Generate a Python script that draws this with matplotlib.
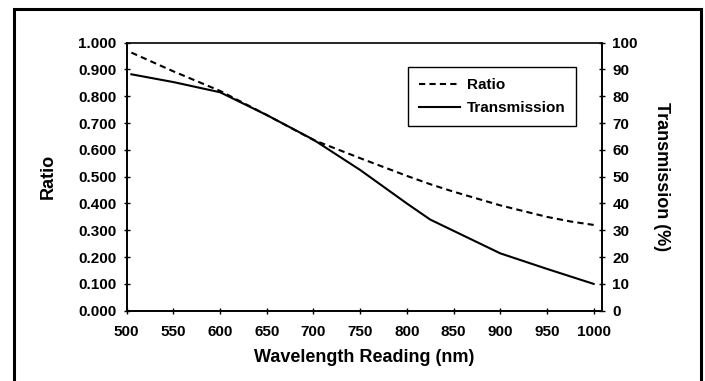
import matplotlib
matplotlib.use("Agg")
import matplotlib.pyplot as plt
from matplotlib.patches import Rectangle

plt.rcParams['font.family'] = ['Liberation Sans', 'DejaVu Sans']
plt.rcParams['font.weight'] = 'bold'

# data
wavelength = [505, 550, 600, 650, 700, 750, 800, 825, 850, 900, 950, 975, 1000]
ratio = [0.963, 0.893, 0.820, 0.730, 0.637, 0.569, 0.503, 0.472, 0.444, 0.393, 0.350, 0.333, 0.320]
transmission = [88.2, 85.3, 81.5, 73.0, 63.8, 52.5, 40.0, 34.0, 29.8, 21.4, 15.6, 12.8, 10.0]

ratio_ticks = [i / 10 for i in range(11)]
trans_ticks = list(range(0, 101, 10))
wl_ticks = list(range(500, 1001, 50))

fig = plt.figure(figsize=(7.05, 3.81), dpi=100)
ax = fig.add_axes([0.1797, 0.1845, 0.6743, 0.7035])
ax2 = ax.twinx()

l1, = ax.plot(wavelength, ratio, color='black', lw=1.5, ls=(0, (3, 2)), label='Ratio')
l2, = ax2.plot(wavelength, transmission, color='black', lw=1.5, label='Transmission')

ax.set_xlim(500, 1009)
ax.set_ylim(0, 1)
ax2.set_ylim(0, 100)
ax.set_xticks(wl_ticks)
ax.set_yticks(ratio_ticks)
ax.set_yticklabels(['%.3f' % v for v in ratio_ticks])
ax2.set_yticks(trans_ticks)

for a in (ax, ax2):
    a.tick_params(direction='inout', length=5, width=1, labelsize=11, pad=5)
    for s in a.spines.values():
        s.set_linewidth(1.2)
ax.tick_params(axis='x', pad=8)
ax2.spines['top'].set_visible(False)

ax.set_xlabel('Wavelength Reading (nm)', fontsize=13, fontweight='bold', labelpad=7)
ax.set_ylabel('Ratio', fontsize=13, fontweight='bold', labelpad=15)
ax2.set_ylabel('Transmission (%)', fontsize=13, fontweight='bold', rotation=270, labelpad=23)

leg = ax2.legend(handles=[l1, l2], loc='upper left', bbox_to_anchor=(0.592, 0.908),
                 borderaxespad=0, fancybox=False, framealpha=1, edgecolor='black',
                 fontsize=11, handlelength=2.7, handletextpad=0.45,
                 borderpad=0.7, labelspacing=0.6)
leg.get_frame().set_linewidth(1)

# outer chart border (bottom edge falls outside the image)
fig.patches.append(Rectangle((14 / 705, -0.05), 687 / 705, 1.05 - 9 / 381,
                             transform=fig.transFigure, fill=False,
                             edgecolor='black', lw=2.2))

fig.savefig('out.png', dpi=100)
